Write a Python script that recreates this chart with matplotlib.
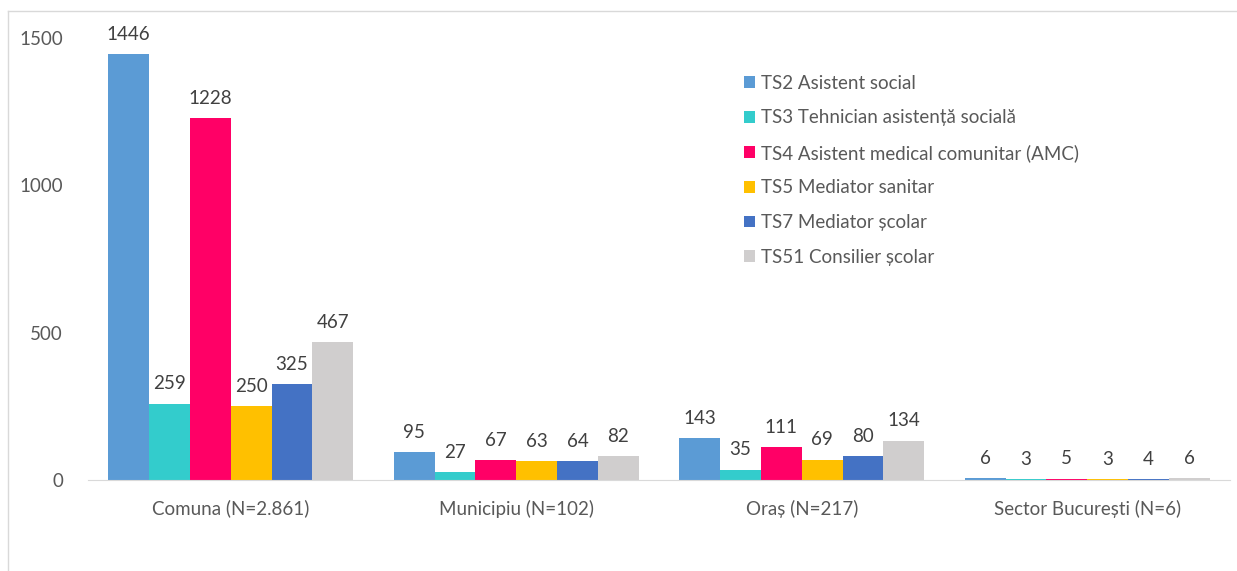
import matplotlib
matplotlib.use("Agg")
import matplotlib.pyplot as plt
import numpy as np
from matplotlib.lines import Line2D

categories = ["Comuna (N=2.861)", "Municipiu (N=102)", "Oraș (N=217)", "Sector București (N=6)"]
series = ["TS2 Asistent social", "TS3 Tehnician asistență socială",
          "TS4 Asistent medical comunitar (AMC)", "TS5 Mediator sanitar",
          "TS7 Mediator școlar", "TS51 Consilier școlar"]
ts2 = [1446, 95, 143, 6]
ts3 = [259, 27, 35, 3]
ts4 = [1228, 67, 111, 5]
ts5 = [250, 63, 69, 3]
ts7 = [325, 64, 80, 4]
ts51 = [467, 82, 134, 6]
values = [ts2, ts3, ts4, ts5, ts7, ts51]
colors = ["#5B9BD5", "#33CCCC", "#FF0066", "#FFC000", "#4472C4", "#D0CECE"]

plt.rcParams["font.family"] = ["Lato", "DejaVu Sans"]
W, H = 1237, 571
fig = plt.figure(figsize=(W / 100, H / 100), dpi=100)
ax = fig.add_axes([88 / W, (H - 480) / H, (1230 - 88) / W, 442 / H])

fs = 13.5
x = np.arange(len(categories))
bw = 0.143
for i, (vals, col, name) in enumerate(zip(values, colors, series)):
    pos = x + (i - 2.5) * bw
    ax.bar(pos, vals, width=bw, color=col, label=name)
    for p, v in zip(pos, vals):
        ax.text(p, v + 38, str(v), ha="center", va="bottom", fontsize=fs,
                color="#404040", clip_on=False)

ax.set_xlim(-0.5, len(categories) - 0.5)
ax.set_ylim(0, 1500)
ax.set_yticks([0, 500, 1000, 1500])
ax.set_xticks(x, categories)
ax.tick_params(length=0, labelsize=fs, colors="#595959", pad=14)
ax.tick_params(axis="y", pad=18)
for s in ("top", "right", "left"):
    ax.spines[s].set_visible(False)
ax.spines["bottom"].set_color("#D9D9D9")

ax.legend(loc="upper left", bbox_to_anchor=(0.568, 0.934), borderaxespad=0,
          frameon=False, fontsize=fs, labelcolor="#595959", handlelength=0.6,
          handleheight=0.6, handletextpad=0.3, labelspacing=0.94)

# light chart border
fig.add_artist(Line2D([8 / W, 8 / W], [0, 1 - 11 / H], color="#D9D9D9", lw=1))
fig.add_artist(Line2D([8 / W, 1], [1 - 11 / H, 1 - 11 / H], color="#D9D9D9", lw=1))

fig.savefig("out.png", dpi=100)
